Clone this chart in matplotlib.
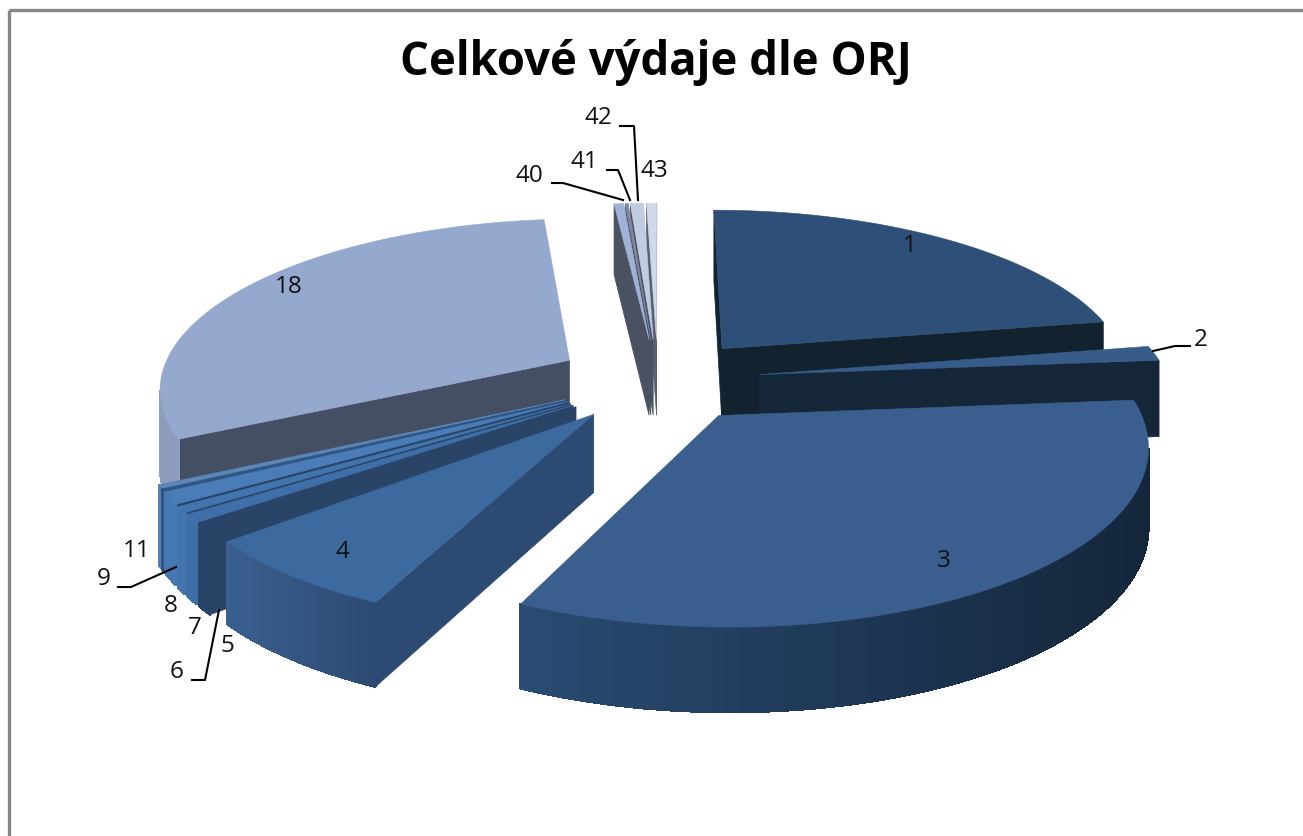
import numpy as np
import matplotlib
matplotlib.use('Agg')
import matplotlib.pyplot as plt
from matplotlib.patches import Polygon
from matplotlib.colors import to_rgb

# slice shares (degrees of the full circle)
labels = ['1', '2', '3', '4', '5', '6', '7', '8', '9', '11', '18', '40', '41', '42', '43']
values = [80, 5, 120, 25, 2.7, 2.7, 2.0, 4.0, 0.5, 1.1, 111, 1.6, 0.5, 2.2, 1.7]

title = 'Celkové výdaje dle ORJ'

# top, cut face, rim left, rim right
colors = {
    '1': ('#2e5078', '#12232f', '#12232f', '#12232f'),
    '2': ('#375c8a', '#152638', '#152638', '#152638'),
    '3': ('#3a5f8f', '#14263b', '#2a4b73', '#14263b'),
    '4': ('#3c6a9e', '#2d4a72', '#3a6090', '#2d4a72'),
    '5': ('#2a4468', '#2a4468', '#2a4468', '#2a4468'),
    '6': ('#3f6fa8', '#2a4468', '#3f6fa8', '#3f6fa8'),
    '7': ('#4274ae', '#2a4468', '#4274ae', '#4274ae'),
    '8': ('#4a7db8', '#2a4468', '#4679b3', '#4679b3'),
    '9': ('#2f5582', '#2f5582', '#2f5582', '#2f5582'),
    '11': ('#5b86b8', '#7f9cc0', '#5680b4', '#5680b4'),
    '18': ('#95a9ce', '#454f63', '#8e9dbc', '#95a9ce'),
    '40': ('#9fb2d6', '#4a5261', '#4a5261', '#4a5261'),
    '41': ('#7f8aa0', '#4a5261', '#4a5261', '#4a5261'),
    '42': ('#c0cce0', '#4a5261', '#4a5261', '#4a5261'),
    '43': ('#cfd9ea', '#5a6270', '#5a6270', '#5a6270'),
}

label_pos = {'1': (910, 246), '2': (1201, 340), '3': (944, 561), '4': (342, 552),
             '5': (227, 646), '6': (177, 672), '7': (195, 628), '8': (171, 606),
             '9': (104, 579), '11': (137, 551), '18': (289, 287), '40': (529, 176),
             '41': (584, 162), '42': (598, 118), '43': (654, 171)}
leaders = [[(1153, 351), (1175, 346), (1190, 346)],
           [(552, 183), (563, 183), (623, 200)],
           [(607, 170), (618, 170), (630, 200)],
           [(620, 126), (634, 126), (638, 200)],
           [(118, 587), (131, 587), (176, 567)],
           [(192, 680), (205, 680), (219, 610)]]

CX, CY, RX, RY, K, DEPTH, EXPL = 658, 380, 410, 168, 0.15, 77, 0.25


def project(u, v, z):
    s = 1 / (1 + K * v)
    return CX + RX * u * s, CY - RY * v * s + z * DEPTH * np.sqrt(s)


def area(poly):
    p = np.array(poly)
    x, y = p[:, 0], p[:, 1]
    return 0.5 * np.sum(x * np.roll(y, -1) - np.roll(x, -1) * y)


def mix(a, b, f):
    a, b = np.array(to_rgb(a)), np.array(to_rgb(b))
    return tuple(a + (b - a) * f)


fig = plt.figure(figsize=(13.03, 8.36), dpi=100)
ax = fig.add_axes([0, 0, 1, 1])
ax.set_xlim(0, 1303)
ax.set_ylim(836, 0)
ax.axis('off')

edges = np.concatenate([[0], np.cumsum(values)])
slices = []
for i, lab in enumerate(labels):
    a0, a1 = np.radians(edges[i]), np.radians(edges[i + 1])
    mid = (a0 + a1) / 2
    slices.append((lab, a0, a1, EXPL * np.sin(mid), EXPL * np.cos(mid), np.cos(mid)))

# back slices first
for lab, a0, a1, eu, ev, depth_key in sorted(slices, key=lambda d: -d[5]):
    top, cut, rim_l, rim_r = colors[lab]
    ts = np.linspace(a0, a1, max(3, int(np.degrees(a1 - a0)) * 2))

    def pt(r, t, z):
        return project(eu + r * np.sin(t), ev + r * np.cos(t), z)

    # cut faces, only when they face the camera
    for t, sign in ((a0, -1), (a1, 1)):
        q = [pt(0, t, 0), pt(1, t, 0), pt(1, t, 1), pt(0, t, 1)]
        if area(q) * sign > 0:
            ax.add_patch(Polygon(q, fc=cut, ec=cut, lw=0.5, zorder=2))

    # rim, shaded left to right, no antialiasing so the segments do not leave seams
    xs = [pt(1, t, 0)[0] for t in ts]
    for t0, t1 in zip(ts[:-1], ts[1:]):
        q = [pt(1, t0, 0), pt(1, t1, 0), pt(1, t1, 1), pt(1, t0, 1)]
        if area(q) < 0:
            f = (q[0][0] - min(xs)) / max(max(xs) - min(xs), 1)
            c = mix(rim_l, rim_r, f)
            ax.add_patch(Polygon(q, fc=c, ec=c, lw=1.0, antialiased=False, zorder=2))

    face = [pt(0, a0, 0)] + [pt(1, t, 0) for t in ts]
    ax.add_patch(Polygon(face, fc=top, ec=top, lw=0.4, zorder=2))

# frame of the chart area
ax.plot([8.5, 8.5], [10, 836], color='#888888', lw=2.4, zorder=1, solid_capstyle='butt')
ax.plot([8.5, 1303], [10, 10], color='#888888', lw=2.4, zorder=1, solid_capstyle='butt')

for path in leaders:
    px, py = zip(*path)
    ax.plot(px, py, color='black', lw=1.5, zorder=3)

for lab in labels:
    x, y = label_pos[lab]
    ax.text(x, y, lab, ha='center', va='center', fontsize=17.5, color='#111111',
            family='Open Sans', zorder=4)

ax.text(656, 63, title, ha='center', va='center', fontsize=32.8, fontweight='bold',
        family='Open Sans', color='black', zorder=4)

fig.savefig('out.png', dpi=100, facecolor='white')
